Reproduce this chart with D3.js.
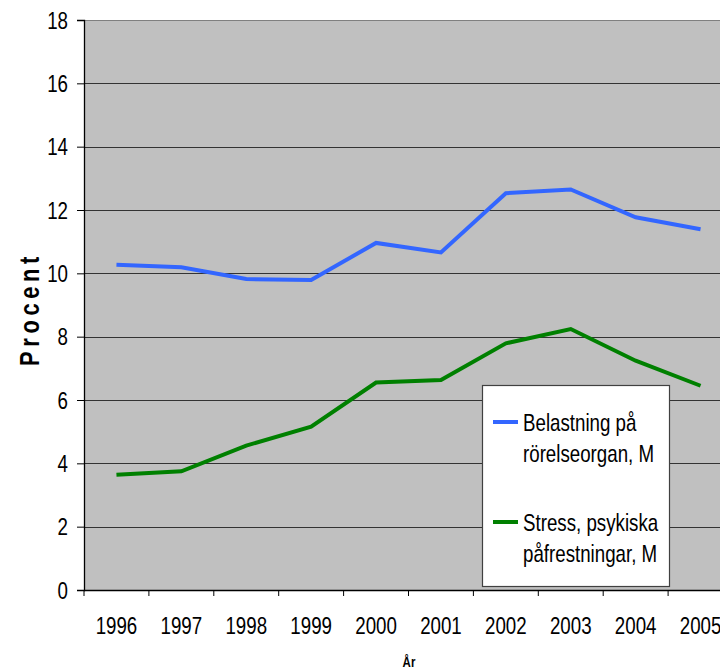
<!DOCTYPE html>
<html>
<head>
<meta charset="utf-8">
<script src="https://cdn.jsdelivr.net/npm/d3@7"></script>
<style>
  html, body { margin: 0; padding: 0; background: #fff; overflow: hidden; }
  text { font-family: "Liberation Sans", Arial, sans-serif; fill: #000; }
</style>
</head>
<body>
<div id="chart"></div>
<script>
// data
const years = ["1996", "1997", "1998", "1999", "2000", "2001", "2002", "2003", "2004", "2005"];
const belastning = [10.27, 10.19, 9.82, 9.79, 10.96, 10.66, 12.53, 12.65, 11.77, 11.39];
const stress = [3.64, 3.75, 4.56, 5.16, 6.55, 6.63, 7.79, 8.24, 7.24, 6.45];
const yTicks = [0, 2, 4, 6, 8, 10, 12, 14, 16, 18];
const seriesNames = ["Belastning på|rörelseorgan, M", "Stress, psykiska|påfrestningar, M"];
const seriesColors = ["#3366ff", "#008000"];

const width = 720, height = 669;
const plotLeft = 84, plotTop = 20, plotBottom = 590, plotRight = 733; // plot runs past the window edge
const squeeze = 0.78; // narrow type

const svg = d3.select("#chart").append("svg")
  .attr("width", width)
  .attr("height", height);

const x = d3.scaleBand().domain(years).range([plotLeft, plotRight]).padding(0);
const y = d3.scaleLinear().domain([0, 18]).range([plotBottom, plotTop]);

// helper for narrow text
function label(g, tx, ty, str, opts = {}) {
  const t = g.append("g")
    .attr("transform", `translate(${tx},${ty})` + (opts.rotate ? ` rotate(${opts.rotate})` : ""))
    .append("text")
    .attr("transform", `scale(${opts.squeeze || squeeze},1)`)
    .attr("text-anchor", opts.anchor || "middle")
    .style("font-size", (opts.size || 24) + "px")
    .text(str);
  if (opts.bold) t.style("font-weight", "bold");
  if (opts.spacing) t.style("letter-spacing", opts.spacing + "px");
  return t;
}

// plot background
svg.append("rect")
  .attr("x", plotLeft).attr("y", plotTop)
  .attr("width", plotRight - plotLeft).attr("height", plotBottom - plotTop)
  .attr("fill", "#c0c0c0");

// gridlines
svg.append("g").selectAll("line")
  .data(yTicks.filter(d => d > 0 && d < 18))
  .join("line")
  .attr("x1", plotLeft).attr("x2", plotRight)
  .attr("y1", d => Math.round(y(d)) + 0.5).attr("y2", d => Math.round(y(d)) + 0.5)
  .attr("stroke", "#333").attr("stroke-width", 1);

// top border
svg.append("line")
  .attr("x1", plotLeft).attr("x2", plotRight)
  .attr("y1", plotTop + 0.5).attr("y2", plotTop + 0.5)
  .attr("stroke", "#808080").attr("stroke-width", 1.2);

// y axis
const yAxis = svg.append("g").attr("transform", `translate(${plotLeft},0)`)
  .call(d3.axisLeft(y).tickValues(yTicks).tickSize(7).tickFormat(""));
yAxis.select(".domain").attr("stroke", "#000").attr("stroke-width", 1.3);
yAxis.selectAll(".tick line").attr("stroke", "#000");

const yLabels = svg.append("g");
yTicks.forEach(d => label(yLabels, 68, y(d) + 8.7, String(d), { anchor: "end" }));

// x axis with ticks on category boundaries
svg.append("line")
  .attr("x1", plotLeft).attr("x2", plotRight)
  .attr("y1", plotBottom + 0.5).attr("y2", plotBottom + 0.5)
  .attr("stroke", "#000").attr("stroke-width", 1.3);
svg.append("g").selectAll("line")
  .data(years.map(d => x(d)).concat([x.range()[1]]))
  .join("line")
  .attr("x1", d => d).attr("x2", d => d)
  .attr("y1", plotBottom).attr("y2", plotBottom + 6)
  .attr("stroke", "#000");

const xLabels = svg.append("g");
years.forEach(d => label(xLabels, x(d) + x.bandwidth() / 2, 634, d));

// axis titles
label(svg, 409, 667, "År", { size: 14, bold: true, squeeze: 0.82 });
label(svg, 39, 309, "Procent", { size: 28, bold: true, rotate: -90, spacing: 6 });

// lines
const line = d3.line()
  .x((d, i) => x(years[i]) + x.bandwidth() / 2)
  .y(d => y(d));

[belastning, stress].forEach((vals, k) => {
  svg.append("path")
    .datum(vals)
    .attr("d", line)
    .attr("fill", "none")
    .attr("stroke", seriesColors[k])
    .attr("stroke-width", 4)
    .attr("stroke-linejoin", "miter");
});

// legend
const legend = svg.append("g");
legend.append("rect")
  .attr("x", 482.5).attr("y", 385.5)
  .attr("width", 187).attr("height", 201)
  .attr("fill", "#fff").attr("stroke", "#404040").attr("stroke-width", 1.2);

const legendBase = [431, 531];
seriesNames.forEach((name, k) => {
  const b = legendBase[k];
  legend.append("line")
    .attr("x1", 493).attr("x2", 518)
    .attr("y1", b - 9).attr("y2", b - 9)
    .attr("stroke", seriesColors[k]).attr("stroke-width", 4);
  name.split("|").forEach((part, j) => {
    label(legend, 523, b + j * 31, part, { anchor: "start" });
  });
});
</script>
</body>
</html>
